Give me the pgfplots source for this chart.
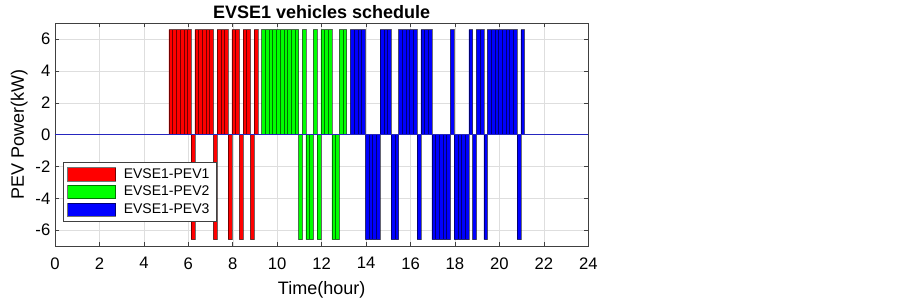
\documentclass[border=0pt]{standalone}
\usepackage{pgfplots}
\pgfplotsset{compat=1.18}
\usepackage{pgfplotstable}
\usepackage{fontspec}
\setmainfont{Liberation Sans}

\definecolor{gridgray}{gray}{0.87}
\definecolor{axgray}{gray}{0.25}
\definecolor{baseblue}{rgb}{0.15,0.15,0.75}

% s = index of the 10-minute slot, p = power in kW
\pgfplotstableread{
s p
31 6.6
32 6.6
33 6.6
34 6.6
35 6.6
36 6.6
37 -6.6
38 6.6
39 6.6
40 6.6
41 6.6
42 6.6
43 -6.6
44 6.6
45 6.6
46 6.6
47 -6.6
48 6.6
49 6.6
50 -6.6
51 6.6
52 6.6
53 -6.6
54 6.6
}\pevone

\pgfplotstableread{
s p
56 6.6
57 6.6
58 6.6
59 6.6
60 6.6
61 6.6
62 6.6
63 6.6
64 6.6
65 6.6
66 -6.6
67 6.6
68 -6.6
69 -6.6
70 6.6
71 -6.6
72 6.6
73 6.6
74 6.6
75 -6.6
76 -6.6
77 6.6
78 6.6
}\pevtwo

\pgfplotstableread{
s p
80 6.6
81 6.6
82 6.6
83 6.6
84 -6.6
85 -6.6
86 -6.6
87 -6.6
88 6.6
89 6.6
90 6.6
91 -6.6
92 -6.6
93 6.6
94 6.6
95 6.6
96 6.6
97 6.6
98 -6.6
99 6.6
100 6.6
101 6.6
102 -6.6
103 -6.6
104 -6.6
105 -6.6
106 -6.6
107 6.6
108 -6.6
109 -6.6
110 -6.6
111 -6.6
112 6.6
113 -6.6
114 6.6
115 6.6
116 -6.6
117 6.6
118 6.6
119 6.6
120 6.6
121 6.6
122 6.6
123 6.6
124 6.6
125 -6.6
126 6.6
}\pevthree

\begin{document}
\begin{tikzpicture}
\useasboundingbox (-41.25pt,-38.25pt) rectangle (636pt,184.5pt);
\begin{axis}[
    scale only axis,
    width=400pt, height=167pt,
    xmin=0, xmax=24,
    ymin=-7, ymax=7,
    xtick={0,2,...,24},
    ytick={-6,-4,...,6},
    grid=major,
    major grid style={gridgray, line width=0.4pt},
    axis line style={axgray, line width=0.5pt},
    tick style={axgray, line width=0.5pt},
    tick align=inside,
    major tick length=3pt,
    title={\bfseries EVSE1 vehicles schedule},
    title style={font=\fontsize{13.5}{15}\selectfont, yshift=-6pt},
    xlabel={Time(hour)},
    ylabel={PEV Power(kW)},
    label style={font=\fontsize{13.5}{15}\selectfont},
    xlabel style={yshift=-2pt},
    ylabel style={yshift=-1pt},
    tick label style={font=\fontsize{12.5}{14}\selectfont},
    xticklabel style={yshift=-5pt},
    /pgf/number format/assume math mode=true,
    legend style={at={(0.015,0.108)}, anchor=south west,
        font=\fontsize{10.5}{12}\selectfont, draw=axgray,
        row sep=0.5pt, inner xsep=3pt, inner ysep=2.5pt},
    legend cell align=left,
    legend image code/.code={
        \draw[#1] (0pt,-5pt) rectangle (36pt,5pt);
        \path (40pt,0pt);
    },
]

\addplot[ybar, bar width=0.16667, bar shift=0pt,
    fill=red, draw=black, draw opacity=0.55, line width=0.4pt]
    table[x expr=\thisrow{s}/6+0.045, y=p] {\pevone};
\addlegendentry{EVSE1-PEV1}

\addplot[ybar, bar width=0.16667, bar shift=0pt,
    fill=green, draw=black, draw opacity=0.55, line width=0.4pt]
    table[x expr=\thisrow{s}/6+0.045, y=p] {\pevtwo};
\addlegendentry{EVSE1-PEV2}

\addplot[ybar, bar width=0.16667, bar shift=0pt,
    fill=blue, draw=black, draw opacity=0.55, line width=0.4pt]
    table[x expr=\thisrow{s}/6+0.045, y=p] {\pevthree};
\addlegendentry{EVSE1-PEV3}

% bar baseline
\addplot[baseblue, line width=0.5pt, forget plot] coordinates {(0,0) (24,0)};

\end{axis}
\end{tikzpicture}
\end{document}
